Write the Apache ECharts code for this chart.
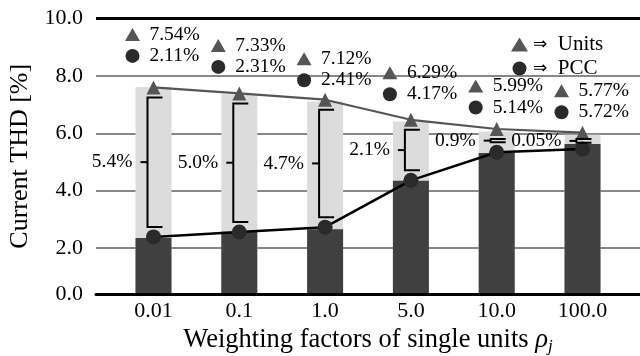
<!DOCTYPE html>
<html>
<head>
<meta charset="utf-8">
<script src="https://cdn.jsdelivr.net/npm/echarts@6/dist/echarts.min.js"></script>
<style>
html,body{margin:0;padding:0;background:#fff;}
#chart{width:640px;height:356px;}
</style>
</head>
<body>
<div id="chart"></div>
<script>
// ---------- data ----------
const categories = ['0.01', '0.1', '1.0', '5.0', '10.0', '100.0'];
// marker positions as drawn (axis units)
const unitsThd = [7.60, 7.39, 7.17, 6.47, 6.15, 6.02];
const pccThd   = [2.39, 2.56, 2.73, 4.36, 5.34, 5.45];
// bar heights as drawn (axis units)
const unitsBar = [7.61, 7.36, 7.11, 6.41, 6.06, 5.95];
const pccBar   = [2.35, 2.57, 2.66, 4.35, 5.31, 5.63];
// printed annotations
const unitsLabels = ['7.54%', '7.33%', '7.12%', '6.29%', '5.99%', '5.77%'];
const pccLabels   = ['2.11%', '2.31%', '2.41%', '4.17%', '5.14%', '5.72%'];
const diffLabels  = ['5.4%', '5.0%', '4.7%', '2.1%', '0.9%', '0.05%'];
// y ticks: the reference's bottom axis line sits at 0.4 but is labelled 0.0
const yTickValues = [0.4, 2, 4, 6, 8, 10];
const yTickLabels = ['0.0', '2.0', '4.0', '6.0', '8.0', '10.0'];
const gridValues = [2, 4, 6, 8];
const topLineValue = 10;

// ---------- styling / layout ----------
const SERIF = "'Liberation Serif', 'DejaVu Serif', serif";
const annotationLiftPx = [53, 48, 41, 47, 43, 42];
const LIGHT = '#dcdcdc', DARK = '#404040', UNIT_C = '#555555', PCC_C = '#2a2a2a';

function renderBracket(params, api) {
  const i = api.value(0);
  const top = api.coord([i, api.value(1)]);
  const bot = api.coord([i, api.value(2)]);
  const x = top[0] - 6;
  const y1 = top[1] + 10, y2 = bot[1] - 10;
  const mid = (y1 + y2) / 2;
  return {
    type: 'group',
    children: [
      { type: 'polyline', shape: { points: [[x + 15, y1], [x, y1], [x, y2], [x + 15, y2]] },
        style: { stroke: '#000', lineWidth: 2, fill: 'none' } },
      { type: 'line', shape: { x1: x - 7, y1: mid, x2: x, y2: mid },
        style: { stroke: '#000', lineWidth: 2 } },
      { type: 'text', x: x - 15, y: mid,
        style: { text: diffLabels[i], align: 'right', verticalAlign: 'middle',
                 fontFamily: SERIF, fontSize: 19.5, fill: '#000' } }
    ]
  };
}

function renderAnnotation(params, api) {
  const i = api.value(0);
  const p = api.coord([i, api.value(1)]);
  const gx = p[0] - 21;
  const ty = p[1] - annotationLiftPx[i];
  const cy = ty + 21.5;
  const tx = p[0] - 4;
  return {
    type: 'group',
    children: [
      { type: 'polygon', shape: { points: [[gx - 7.5, ty + 6.5], [gx + 7.5, ty + 6.5], [gx, ty - 6.5]] },
        style: { fill: UNIT_C } },
      { type: 'text', x: tx, y: ty,
        style: { text: unitsLabels[i], align: 'left', verticalAlign: 'middle',
                 fontFamily: SERIF, fontSize: 19.5, fill: '#000' } },
      { type: 'circle', shape: { cx: gx, cy: cy, r: 7 }, style: { fill: PCC_C } },
      { type: 'text', x: tx, y: cy,
        style: { text: pccLabels[i], align: 'left', verticalAlign: 'middle',
                 fontFamily: SERIF, fontSize: 19.5, fill: '#000' } }
    ]
  };
}

const chart = echarts.init(document.getElementById('chart'), null, { renderer: 'canvas' });
chart.setOption({
  animation: false,
  backgroundColor: '#fff',
  grid: { left: 96, right: 0, top: 18.5, bottom: 62, outerBoundsMode: 'none', containLabel: false },
  legend: {
    orient: 'vertical', left: 506, top: 29,
    itemWidth: 17, itemHeight: 14, itemGap: 3,
    data: [{ name: 'Units', icon: 'triangle' }, { name: 'PCC', icon: 'circle' }],
    formatter: n => '{a|\u21D2}  ' + n,
    textStyle: {
      fontFamily: SERIF, fontSize: 21, color: '#000', lineHeight: 20,
      rich: { a: { fontFamily: "'DejaVu Sans', sans-serif", fontSize: 17, color: '#000' } }
    }
  },
  xAxis: {
    type: 'value', min: -0.67, max: 5.67, z: 5,
    axisLine: { show: true, lineStyle: { color: '#000', width: 3 } },
    axisTick: { show: false },
    splitLine: { show: false },
    axisLabel: {
      customValues: categories.map((c, i) => i),
      formatter: v => categories[Math.round(v)],
      fontFamily: SERIF, fontSize: 22, color: '#000', margin: 6
    },
    name: '{m|Weighting factors of single units }{r|\u03C1}{s|j}',
    nameLocation: 'middle', nameGap: 29,
    nameTextStyle: {
      rich: {
        m: { fontFamily: SERIF, fontSize: 26.5, color: '#000', lineHeight: 30 },
        r: { fontFamily: SERIF, fontSize: 26.5, fontStyle: 'italic', color: '#000', lineHeight: 30 },
        s: { fontFamily: SERIF, fontSize: 17, fontStyle: 'italic', color: '#000', lineHeight: 14, verticalAlign: 'bottom' }
      }
    }
  },
  yAxis: {
    type: 'value', min: 0.4, max: 10,
    axisLine: { show: false },
    axisTick: { show: false },
    splitLine: { show: false },
    axisLabel: {
      customValues: yTickValues,
      formatter: v => yTickLabels[yTickValues.findIndex(t => Math.abs(t - v) < 1e-6)],
      fontFamily: SERIF, fontSize: 22, color: '#000', margin: 13
    },
    name: 'Current THD [%]',
    nameLocation: 'middle', nameGap: 63,
    nameTextStyle: { fontFamily: SERIF, fontSize: 26, color: '#000' }
  },
  series: [
    {
      name: 'UnitsBar', type: 'bar', barWidth: 36, barGap: '-100%', z: 2,
      itemStyle: { color: LIGHT },
      data: unitsBar.map((v, i) => [i, v]),
      markLine: {
        silent: true, symbol: 'none', z: 1,
        label: { show: false },
        lineStyle: { color: '#888', width: 2, type: 'solid' },
        data: gridValues.map(v => ({ yAxis: v })).concat([
          { yAxis: topLineValue, lineStyle: { color: '#000', width: 3, type: 'solid' } }
        ])
      }
    },
    {
      name: 'PCCBar', type: 'bar', barWidth: 36, barGap: '-100%', z: 2,
      itemStyle: { color: DARK },
      data: pccBar.map((v, i) => [i, v])
    },
    {
      name: 'Units', type: 'line', z: 3,
      symbol: 'triangle', symbolSize: 14,
      itemStyle: { color: UNIT_C },
      lineStyle: { color: UNIT_C, width: 2.2 },
      data: unitsThd.map((v, i) => [i, v])
    },
    {
      name: 'PCC', type: 'line', z: 3,
      symbol: 'circle', symbolSize: 15,
      itemStyle: { color: PCC_C },
      lineStyle: { color: '#000', width: 2.5 },
      data: pccThd.map((v, i) => [i, v])
    },
    {
      name: 'Brackets', type: 'custom', z: 4, clip: false, silent: true,
      renderItem: renderBracket,
      encode: { x: 0, y: [1, 2] },
      data: unitsThd.map((v, i) => [i, v, pccThd[i]])
    },
    {
      name: 'Annotations', type: 'custom', z: 4, clip: false, silent: true,
      renderItem: renderAnnotation,
      encode: { x: 0, y: 1 },
      data: unitsThd.map((v, i) => [i, v])
    }
  ]
});
</script>
</body>
</html>
